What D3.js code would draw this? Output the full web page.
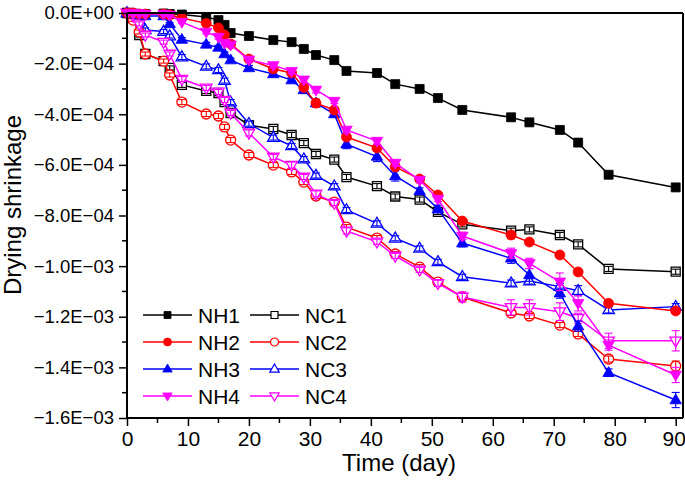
<!DOCTYPE html>
<html><head><meta charset="utf-8">
<script src="https://cdn.jsdelivr.net/npm/d3@7"></script>
<style>html,body{margin:0;padding:0;background:#fff;}svg{display:block;font-family:"Liberation Sans",Arial,sans-serif;}</style>
</head><body><svg id="c" width="685" height="483"></svg>
<script>
// values in units of 1e-4
const days = [0,1,2,3,6,7,9,13,15,16,17,20,24,27,29,31,34,36,41,44,48,51,55,63,66,71,74,79,90];
const NH1 = [0,-0.02,-0.04,-0.04,-0.02,-0.04,-0.06,-0.16,-0.28,-0.47,-0.79,-0.91,-1.07,-1.15,-1.42,-1.66,-1.86,-2.29,-2.37,-2.81,-3.00,-3.36,-3.83,-4.12,-4.32,-4.62,-5.12,-6.39,-6.89];
const NH2 = [0,0,-0.04,-0.04,-0.04,-0.08,-0.20,-0.41,-0.59,-0.87,-1.22,-1.82,-2.21,-2.37,-2.94,-3.56,-3.83,-4.90,-5.33,-6.08,-6.56,-7.19,-8.22,-8.77,-9.05,-9.56,-10.23,-11.47,-11.77];
const NH3 = [0,-0.04,-0.08,-0.12,-0.12,-0.43,-1.05,-1.24,-1.36,-1.62,-1.86,-2.17,-2.41,-2.65,-3.04,-3.56,-3.99,-5.18,-5.67,-6.44,-7.03,-7.74,-9.09,-9.69,-10.35,-11.07,-12.37,-14.21,-15.29];
const NH4 = [0,-0.02,-0.02,-0.04,-0.04,-0.08,-0.36,-0.75,-0.95,-1.19,-1.26,-1.85,-2.07,-2.30,-2.64,-3.04,-3.48,-4.62,-5.06,-5.93,-6.60,-7.35,-8.81,-9.49,-9.89,-10.62,-11.47,-13.12,-14.30];
const NC1 = [0,-0.20,-0.87,-1.62,-1.90,-2.17,-2.84,-3.08,-3.16,-3.52,-3.95,-4.43,-4.58,-4.82,-5.14,-5.57,-5.79,-6.48,-6.84,-7.25,-7.37,-7.86,-8.35,-8.60,-8.55,-8.77,-9.14,-10.11,-10.22];
const NC2 = [0,-0.28,-0.75,-1.62,-1.90,-2.45,-3.52,-3.99,-4.07,-4.50,-5.02,-5.61,-6.01,-6.28,-6.68,-7.23,-7.47,-8.46,-8.89,-9.52,-10.04,-10.63,-11.22,-11.85,-11.97,-12.33,-12.68,-13.67,-13.95];
const NC3 = [0,-0.16,-0.28,-0.67,-0.73,-0.91,-1.74,-2.11,-2.25,-2.67,-3.52,-4.37,-4.92,-5.25,-5.77,-6.42,-6.84,-7.78,-8.31,-8.90,-9.30,-9.83,-10.42,-10.67,-10.59,-10.81,-10.97,-11.73,-11.60];
const NC4 = [0,-0.12,-0.43,-0.87,-1.15,-1.62,-2.61,-2.96,-3.12,-3.44,-3.95,-4.74,-5.69,-6.01,-6.48,-7.15,-7.51,-8.61,-9.04,-9.60,-10.15,-10.68,-11.22,-11.63,-11.63,-11.80,-12.06,-12.95,-12.95];
// error half-widths, same units
const errNH1 = [0,0.03,0.03,0.03,0.03,0.03,0.03,0.05,0.05,0.05,0.05,0.05,0.05,0.05,0.05,0.05,0.05,0.05,0.05,0.05,0.05,0.05,0.05,0.05,0.05,0.05,0.05,0.05,0.05];
const errNH2 = [0,0.03,0.03,0.03,0.03,0.03,0.05,0.05,0.05,0.05,0.05,0.08,0.08,0.08,0.1,0.15,0.1,0.12,0.1,0.1,0.1,0.1,0.1,0.15,0.1,0.1,0.1,0.1,0.1];
const errNH3 = [0,0.03,0.03,0.03,0.03,0.05,0.08,0.08,0.08,0.08,0.08,0.1,0.1,0.1,0.12,0.15,0.12,0.18,0.2,0.2,0.12,0.15,0.15,0.2,0.25,0.2,0.2,0.15,0.3];
const errNH4 = [0,0.03,0.03,0.03,0.03,0.05,0.05,0.08,0.08,0.08,0.08,0.1,0.1,0.1,0.1,0.12,0.1,0.12,0.12,0.12,0.1,0.1,0.15,0.2,0.2,0.35,0.3,0.2,0.3];
const errNC1 = [0,0.05,0.08,0.08,0.08,0.08,0.1,0.1,0.1,0.1,0.1,0.1,0.1,0.1,0.1,0.1,0.1,0.1,0.1,0.1,0.1,0.1,0.1,0.1,0.1,0.1,0.1,0.1,0.1];
const errNC2 = [0,0.05,0.08,0.08,0.08,0.08,0.1,0.1,0.1,0.1,0.1,0.1,0.1,0.1,0.1,0.1,0.1,0.1,0.1,0.1,0.1,0.1,0.1,0.1,0.1,0.1,0.1,0.12,0.2];
const errNC3 = [0,0.05,0.08,0.08,0.08,0.08,0.1,0.1,0.1,0.1,0.1,0.1,0.1,0.1,0.1,0.1,0.1,0.1,0.1,0.1,0.1,0.1,0.1,0.12,0.12,0.12,0.2,0.12,0.12];
const errNC4 = [0,0.05,0.08,0.08,0.08,0.08,0.1,0.1,0.1,0.1,0.1,0.12,0.1,0.12,0.1,0.12,0.1,0.12,0.1,0.1,0.1,0.12,0.2,0.3,0.3,0.35,0.2,0.3,0.4];

const seriesNames = ["NH1","NH2","NH3","NH4","NC1","NC2","NC3","NC4"];
const xTicks = [0,10,20,30,40,50,60,70,80,90];
const yTickLabels = ["0.0E+00","\u22122.0E\u221204","\u22124.0E\u221204","\u22126.0E\u221204","\u22128.0E\u221204","\u22121.0E\u221203","\u22121.2E\u221203","\u22121.4E\u221203","\u22121.6E\u221203"];
const xTitle = "Time (day)";
const yTitle = "Drying shrinkage";

const vals = {NH1,NH2,NH3,NH4,NC1,NC2,NC3,NC4};
const errs = {NH1:errNH1,NH2:errNH2,NH3:errNH3,NH4:errNH4,NC1:errNC1,NC2:errNC2,NC3:errNC3,NC4:errNC4};
const style = {
  NH1:{c:"#000000",sym:"square",fill:true},
  NH2:{c:"#ff0000",sym:"circle",fill:true},
  NH3:{c:"#0000ff",sym:"up",fill:true},
  NH4:{c:"#ff00ff",sym:"down",fill:true},
  NC1:{c:"#000000",sym:"square",fill:false},
  NC2:{c:"#ff0000",sym:"circle",fill:false},
  NC3:{c:"#0000ff",sym:"up",fill:false},
  NC4:{c:"#ff00ff",sym:"down",fill:false}
};

const L=127, R=683, T=13, B=418;
const x = d3.scaleLinear().domain([0,91.2]).range([L,R]);
const y = d3.scaleLinear().domain([-16,0]).range([B,T]);
const svg = d3.select("#c");

function symPath(sym, s){
  if(sym==="square") return d3.symbol(d3.symbolSquare, s*s)();
  if(sym==="circle") return d3.symbol(d3.symbolCircle, Math.PI*(s/2)*(s/2))();
  const h=s*0.9, w=s*1.05;
  if(sym==="up") return `M0,${-h*0.62}L${w/2},${h*0.38}L${-w/2},${h*0.38}Z`;
  return `M0,${h*0.62}L${w/2},${-h*0.38}L${-w/2},${-h*0.38}Z`;
}

const plot = svg.append("g");
plot.append("clipPath").attr("id","clip").append("rect").attr("x",L-8).attr("y",T-8).attr("width",R-L+10).attr("height",B-T+16);
const pg = plot.append("g").attr("clip-path","url(#clip)");
const order = ["NC1","NC3","NC2","NC4","NH1","NH3","NH2","NH4"];
order.forEach(name=>{
  const st=style[name], v=vals[name], e=errs[name];
  const pts = days.map((d,i)=>[d,v[i],e[i]]);
  const g = pg.append("g");
  g.append("path").attr("d", d3.line().x(p=>x(p[0])).y(p=>y(p[1]))(pts))
    .attr("fill","none").attr("stroke",st.c).attr("stroke-width",1.5);
  g.selectAll("path.m").data(pts).enter().append("path").attr("class","m")
    .attr("transform",p=>`translate(${x(p[0])},${y(p[1])})`)
    .attr("d", symPath(st.sym, st.sym==="circle"?10:(st.sym==="square"?9:11)))
    .attr("fill", st.fill?st.c:"#fff").attr("stroke",st.c).attr("stroke-width",st.fill?0.8:1.3);
  const eb = g.selectAll("g.e").data(pts.filter(p=>p[2]>0)).enter().append("g").attr("class","e")
    .attr("stroke",st.c).attr("stroke-width",1.1);
  eb.append("line").attr("x1",p=>x(p[0])).attr("x2",p=>x(p[0])).attr("y1",p=>y(p[1]-p[2])).attr("y2",p=>y(p[1]+p[2]));
  eb.append("line").attr("x1",p=>x(p[0])-4).attr("x2",p=>x(p[0])+4).attr("y1",p=>y(p[1]-p[2])).attr("y2",p=>y(p[1]-p[2]));
  eb.append("line").attr("x1",p=>x(p[0])-4).attr("x2",p=>x(p[0])+4).attr("y1",p=>y(p[1]+p[2])).attr("y2",p=>y(p[1]+p[2]));
});

// frame
svg.append("line").attr("x1",L).attr("x2",R).attr("y1",T).attr("y2",T).attr("stroke","#000").attr("stroke-width",2);
svg.append("line").attr("x1",R).attr("x2",R).attr("y1",T).attr("y2",B).attr("stroke","#000").attr("stroke-width",2);

// axes
const xAxis = d3.axisBottom(x).tickValues(xTicks).tickSize(8).tickFormat(d3.format("d"));
const gx = svg.append("g").attr("transform",`translate(0,${B})`).call(xAxis);
gx.select(".domain").attr("stroke-width",2).attr("d",`M${L},0H${R}`);
gx.selectAll(".tick line").attr("stroke-width",1.5);
gx.selectAll("text").attr("font-size",21).attr("fill","#000").attr("y",28).attr("dy","0")
  .attr("dx",d=>d===90?-2:0).attr("font-family","Liberation Sans, Arial, sans-serif");
const xMinor = d3.range(5,91,10);
svg.append("g").selectAll("line").data(xMinor).enter().append("line")
  .attr("x1",d=>x(d)).attr("x2",d=>x(d)).attr("y1",B).attr("y2",B+5).attr("stroke","#000").attr("stroke-width",1.5);

const yTickVals = d3.range(0,-17,-2);
const yAxis = d3.axisLeft(y).tickValues(yTickVals).tickSize(8).tickPadding(5).tickFormat((d,i)=>yTickLabels[i]);
const gy = svg.append("g").attr("transform",`translate(${L},0)`).call(yAxis);
gy.select(".domain").attr("stroke-width",2).attr("d",`M0,${T}V${B}`);
gy.selectAll(".tick line").attr("stroke-width",1.5);
gy.selectAll("text").attr("font-size",18.5).attr("fill","#000").attr("font-family","Liberation Sans, Arial, sans-serif");
svg.append("g").selectAll("line").data(d3.range(-1,-16,-2)).enter().append("line")
  .attr("x1",L-5).attr("x2",L).attr("y1",d=>y(d)).attr("y2",d=>y(d)).attr("stroke","#000").attr("stroke-width",1.5);

svg.append("text").attr("x",399).attr("y",471).attr("text-anchor","middle").attr("font-size",24).text(xTitle);
svg.append("text").attr("transform",`translate(21,205) rotate(-90)`).attr("text-anchor","middle").attr("font-size",24).text(yTitle);

// legend
const legRows=[315,342,369,396];
const leg = svg.append("g");
seriesNames.forEach((name,i)=>{
  const col = i<4?0:1, row=i%4;
  const x0 = col===0?143:250, yy=legRows[row];
  const st=style[name];
  leg.append("line").attr("x1",x0).attr("x2",x0+49).attr("y1",yy).attr("y2",yy).attr("stroke",st.c).attr("stroke-width",1.5);
  leg.append("path").attr("transform",`translate(${x0+24.5},${yy})`).attr("d",symPath(st.sym, st.sym==="circle"?8:(st.sym==="square"?7:9)))
    .attr("fill",st.fill?st.c:"#fff").attr("stroke",st.c).attr("stroke-width",st.fill?0.8:1.2);
  leg.append("text").attr("x",x0+55).attr("y",yy+7.5).attr("font-size",21).text(name);
});
</script></body></html>
